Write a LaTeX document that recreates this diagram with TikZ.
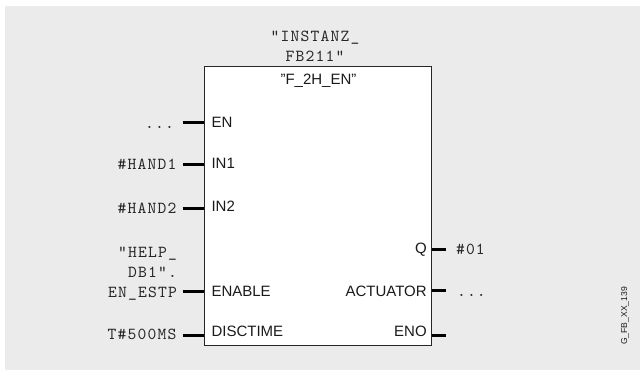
\documentclass[tikz,border=0pt]{standalone}
\usepackage{fontspec}
\setmainfont{Liberation Sans}
\newfontfamily\monof[LetterSpace=7]{lmmono10-regular.otf}
\definecolor{bggray}{HTML}{EBEBEB}
\definecolor{monotext}{HTML}{262626}
\definecolor{labeltext}{HTML}{1A1A1A}
\begin{document}
\begin{tikzpicture}[x=1pt,y=-1pt,
  mono/.style={font=\monof\fontsize{16.8}{19.7}\selectfont, text=monotext, inner sep=0pt, outer sep=0pt},
  sans/.style={font=\fontsize{15}{18}\selectfont, text=labeltext, inner sep=0pt, outer sep=0pt},
  tiny/.style={font=\fontsize{8.6}{10}\selectfont, text=labeltext, inner sep=0pt},
  pinline/.style={line width=3pt, draw=black},
  fbbox/.style={draw=black!85, line width=1pt, fill=white, minimum width=227.4pt, minimum height=278.3pt, inner sep=0pt}]
\useasboundingbox (0,0) rectangle (640,378);
\fill[bggray] (5,6) rectangle (640,370);

% block
\node[fbbox] (fb) at (318,205.85) {};
\node[sans, anchor=center] (fbname) at (318.5,81) {"F\_2H\_EN"};
\node[mono, align=center, anchor=center] (inst) at (315,46) {"INSTANZ\_\\FB211"};

% left pin stubs
\coordinate (pEN) at (182.7,122.7);
\coordinate (pIN1) at (182.7,164.3);
\coordinate (pIN2) at (182.7,208.3);
\coordinate (pENA) at (182.7,291.3);
\coordinate (pDT) at (182.7,335);
\foreach \p in {pEN,pIN1,pIN2,pENA,pDT}
  \draw[pinline] (\p) -- (\p -| fb.west);

% right pin stubs
\coordinate (pQ) at (446,249.3);
\coordinate (pACT) at (446,290.7);
\coordinate (pENO) at (446,335);
\foreach \p in {pQ,pACT,pENO}
  \draw[pinline] (\p -| fb.east) -- (\p);

% labels inside block
\node[sans, anchor=base west] (lEN) at (211.5,127.9) {EN};
\node[sans, anchor=base west] (lIN1) at (211.5,168.4) {IN1};
\node[sans, anchor=base west] (lIN2) at (211.5,211.6) {IN2};
\node[sans, anchor=base west] (lENA) at (211.5,296.1) {ENABLE};
\node[sans, anchor=base west] (lDT) at (211.5,336.4) {DISCTIME};
\node[sans, anchor=base east] (lQ) at (426.7,253.7) {Q};
\node[sans, anchor=base east] (lACT) at (426.7,296.1) {ACTUATOR};
\node[sans, anchor=base east] (lENO) at (426.7,336.4) {ENO};

% outside operands
\node[mono, anchor=base east] (oEN) at (174,128.5) {...};
\node[mono, anchor=base east] (oIN1) at (176.5,169.3) {\#HAND1};
\node[mono, anchor=base east] (oIN2) at (176.5,213.3) {\#HAND2};
\node[mono, align=right, anchor=east] (oENA) at (177,273.6) {"HELP\_\\DB1".\\EN\_ESTP};
\node[mono, anchor=base east] (oDT) at (176.5,339.3) {T\#500MS};
\node[mono, anchor=base west] (oQ) at (456,254.3) {\#01};
\node[mono, anchor=base west] (oACT) at (457,296) {...};

% figure id
\node[tiny, rotate=90, anchor=center] (figid) at (625,316) {G\_FB\_XX\_139};
\end{tikzpicture}
\end{document}
